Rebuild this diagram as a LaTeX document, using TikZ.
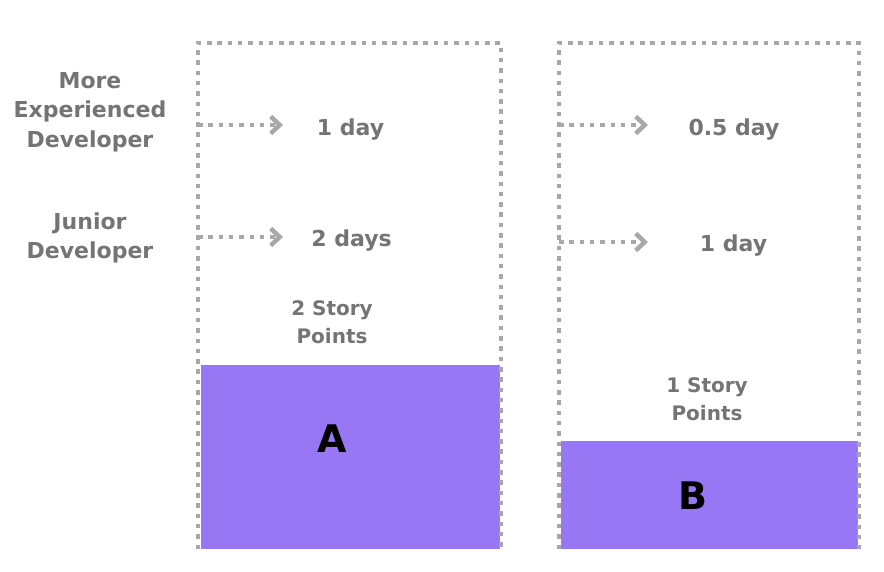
\documentclass[tikz,border=0pt]{standalone}
\usepackage{fontspec}
\setmainfont{DejaVu Sans}
\usetikzlibrary{arrows.meta}
\definecolor{txtgray}{HTML}{747474}
\definecolor{dotgray}{HTML}{A8A8A8}
\definecolor{sppurple}{HTML}{9777F3}

\begin{document}
\begin{tikzpicture}[x=1pt,y=-1pt,
brd/.style={dotgray,line width=4.5pt,dash pattern=on 4.5pt off 5.8pt},
arr/.style={brd,-{Straight Barb[length=9pt,width=17pt,line width=4.5pt]}},
lbl/.style={txtgray,align=center,inner sep=0pt,font=\bfseries\fontsize{22}{29.5}\selectfont},
dayl/.style={txtgray,inner sep=0pt,anchor=base,font=\bfseries\fontsize{22}{26}\selectfont},
spl/.style={txtgray,align=center,inner sep=0pt,font=\bfseries\fontsize{20}{28}\selectfont},
tsk/.style={inner sep=0pt,font=\bfseries\fontsize{38}{40}\selectfont}]
\useasboundingbox (0,0) rectangle (884,572);
% task blocks
\fill[sppurple] (201,365) rectangle (500,549);
\fill[sppurple] (561,441) rectangle (858,549);
\draw[brd] (198,549) -- (198,43) -- (501,43) -- (501,549);
\draw[brd] (559,549) -- (559,43) -- (859,43) -- (859,549);
% developers
\node[lbl] (senior) at (90,112) {More\\Experienced\\Developer};
\node[lbl] (junior) at (90,238) {Junior\\Developer};
% estimates
\coordinate (aS) at (198,125); \coordinate (aSe) at (283,125);
\coordinate (aJ) at (198,237); \coordinate (aJe) at (283,237);
\coordinate (bS) at (559,125); \coordinate (bSe) at (648,125);
\coordinate (bJ) at (559,242); \coordinate (bJe) at (648,242);
\draw[arr] (aS) -- (aSe);
\draw[arr] (aJ) -- (aJe);
\draw[arr] (bS) -- (bSe);
\draw[arr] (bJ) -- (bJe);
\node[dayl] (aSday) at (350.5,136) {1 day};
\node[dayl] (aJday) at (351.5,247) {2 days};
\node[dayl] (bSday) at (734,136) {0.5 day};
\node[dayl] (bJday) at (733.5,252) {1 day};
\node[spl] (aPts) at (332,322) {2 Story\\Points};
\node[spl] (bPts) at (707,399) {1 Story\\Points};
\node[tsk] (taskA) at (332,439) {A};
\node[tsk] (taskB) at (693,496) {B};
\end{tikzpicture}
\end{document}
